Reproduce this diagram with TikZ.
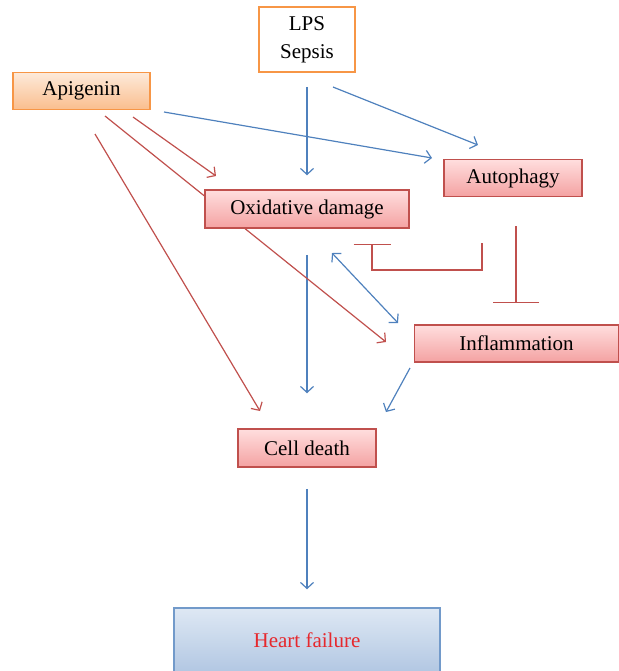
\documentclass[tikz,border=0pt]{standalone}
\usepackage{fontspec}
\setmainfont{Liberation Serif}
\usepackage{tikz}
\usetikzlibrary{arrows.meta, positioning, calc}
\definecolor{myblue}{RGB}{79,129,189}
\definecolor{myred}{RGB}{192,80,77}
\definecolor{myorange}{RGB}{247,150,70}
\definecolor{txtred}{RGB}{230,40,45}
\definecolor{pinktop}{RGB}{255,222,222}
\definecolor{pinkbot}{RGB}{244,162,162}
\definecolor{orgtop}{RGB}{253,234,218}
\definecolor{orgbot}{RGB}{250,190,142}
\definecolor{bluetop}{RGB}{222,232,244}
\definecolor{bluebot}{RGB}{167,191,222}
\tikzset{
  redbox/.style={rectangle, draw=myred, top color=pinktop, bottom color=pinkbot,
    minimum height=19pt, font=\fontsize{10.5}{12.5}\selectfont, line width=0.75pt,
    inner sep=0pt},
  orangebox/.style={rectangle, draw=myorange, top color=orgtop, bottom color=orgbot,
    minimum height=18.5pt, font=\fontsize{10.5}{12.5}\selectfont, line width=0.75pt,
    inner sep=0pt},
  whitebox/.style={rectangle, draw=myorange, fill=white, align=center,
    font=\fontsize{10.5}{14}\selectfont, line width=0.75pt, inner sep=0pt},
  bluebox/.style={rectangle, draw=myblue!80, top color=bluetop, bottom color=bluebot,
    line width=0.75pt, inner sep=0pt},
  bluearrow/.style={-{Straight Barb[length=3pt,width=6.5pt]}, line width=0.6pt, color=myblue},
  redarrow/.style={-{Straight Barb[length=3pt,width=6.5pt]}, line width=0.6pt, color=myred},
  inhibit/.style={-{Bar[width=#1,line width=0.7pt]}, line width=0.7pt, color=myred},
  inhibit/.default=23pt
}
\begin{document}
\begin{tikzpicture}[x=0.5pt, y=-0.5pt]
  \useasboundingbox (0,0) rectangle (618,671);
  % ── boxes ──────────────────────────────────────────────
  \node[whitebox, minimum width=48pt, minimum height=32.5pt] (lps) at (307,39.5) {LPS\\Sepsis};
  \node[orangebox, minimum width=68.5pt] (apig) at (81.5,91) {Apigenin};
  \node[redbox, minimum width=102pt] (oxi) at (307,209) {Oxidative damage};
  \node[redbox, minimum width=69pt, minimum height=18.5pt] (auto) at (513,178) {Autophagy};
  \node[redbox, minimum width=102pt, minimum height=18.5pt] (infl) at (516.5,343.5) {Inflammation};
  \node[redbox, minimum width=69pt] (cell) at (307,448) {Cell death};
  \node[bluebox, minimum width=133pt, minimum height=40pt] (heart) at (307,648) {};
  \node[text=txtred, font=\fontsize{10.5}{12.5}\selectfont] (heartlbl) at (307,640) {Heart failure};
  % ── free arrow ends ────────────────────────────────────
  \coordinate (lpsR) at (333,87);
  \coordinate (autoT) at (478,145);
  \coordinate (apigR) at (164,112);
  \coordinate (autoL) at (432,158);
  \coordinate (apigA) at (133,117);
  \coordinate (oxiT) at (216,176);
  \coordinate (apigB) at (105,116);
  \coordinate (inflL) at (386,342);
  \coordinate (apigC) at (95,134);
  \coordinate (cellL) at (260,411);
  \coordinate (oxiB) at (332,253);
  \coordinate (inflT) at (398,323);
  \coordinate (inflB) at (410,368);
  \coordinate (cellR) at (386,412);
  \coordinate (autoB) at (516,226);
  \coordinate (inflN) at (516,303);
  \coordinate (autoE) at (482,243);
  \coordinate (elbow) at (372,270);
  \coordinate (oxiE) at (372,244);
  % ── blue arrows ────────────────────────────────────────
  \draw[bluearrow, shorten <=7pt, shorten >=7pt] (lps.south) -- (oxi.north);
  \draw[bluearrow] (lpsR) -- (autoT);
  \draw[bluearrow] (apigR) -- (autoL);
  \draw[bluearrow, shorten <=13pt, shorten >=17.5pt] (oxi.south) -- (cell.north);
  \draw[bluearrow, {Straight Barb[length=3pt,width=6.5pt]}-{Straight Barb[length=3pt,width=6.5pt]}] (oxiB) -- (inflT);
  \draw[bluearrow] (inflB) -- (cellR);
  \draw[bluearrow, shorten <=10.5pt, shorten >=9pt] (cell.south) -- (heart.north);
  % ── red arrows ─────────────────────────────────────────
  \draw[redarrow] (apigA) -- (oxiT);
  \draw[redarrow] (apigC) -- (cellL);
  % ── inhibition ─────────────────────────────────────────
  \draw[inhibit] (autoB) -- (inflN);
  \draw[inhibit=18.5pt] (autoE) |- (elbow) -- (oxiE);
  % line passing behind the oxidative damage box
  \draw[redarrow] (apigB) -- (inflL);
  \node[redbox, minimum width=102pt] at (oxi) {Oxidative damage};
\end{tikzpicture}
\end{document}
